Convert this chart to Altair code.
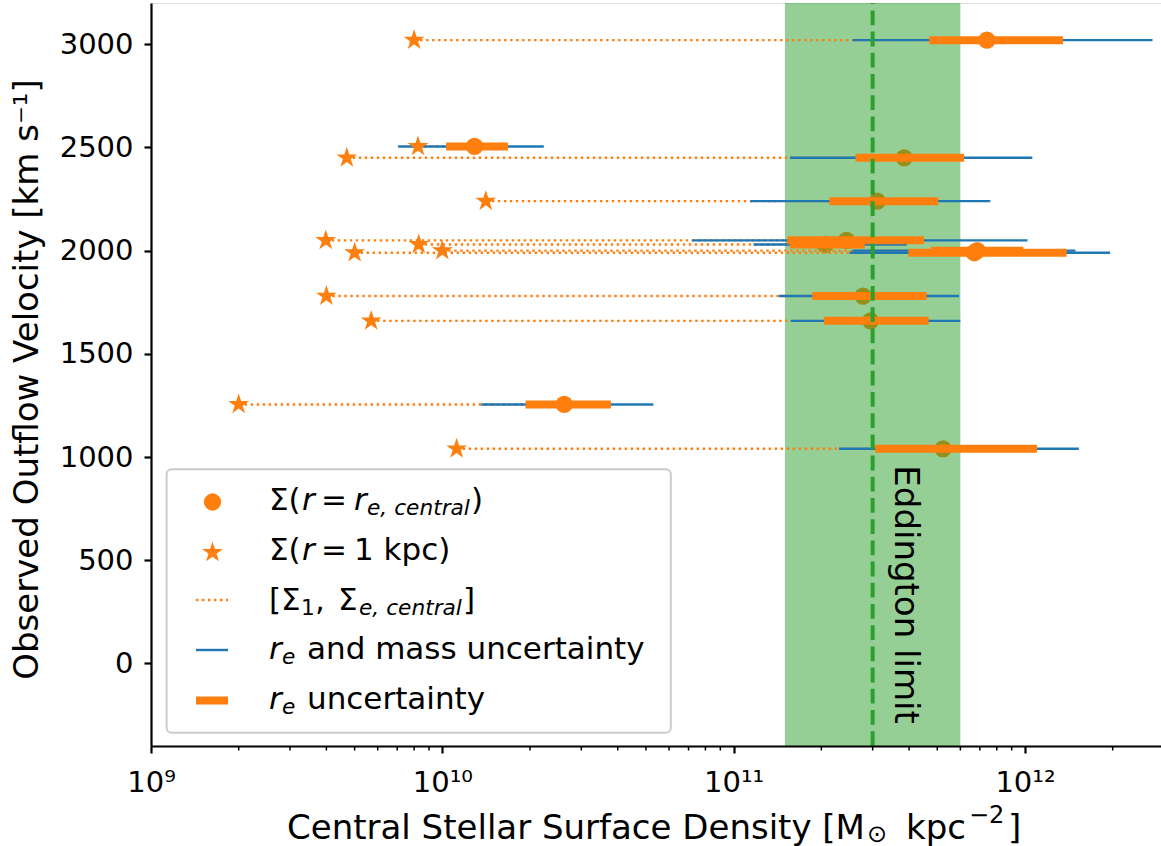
import math

import altair as alt
import pandas as pd

# Observed outflow velocity of each galaxy [km/s]
velocity = [3020, 2505, 2450, 2240, 2050, 2030, 2000, 1990, 1780, 1660, 1255, 1040]
# Stellar surface density inside r = 1 kpc
sigma_1kpc = [8.0e9, 8.25e9, 4.7e9, 1.41e10, 3.98e9, 8.3e9, 1.0e10, 5.0e9, 4.0e9, 5.7e9, 2.0e9, 1.12e10]
# Stellar surface density inside the central effective radius
sigma_re = [7.4e11, 1.29e10, 3.85e11, 3.11e11, 2.44e11, 2.06e11, 6.85e11, 6.7e11, 2.78e11, 2.95e11, 2.62e10, 5.23e11]
# Range allowed by the r_e and stellar-mass uncertainties together
full_lo = [2.56e11, 7.05e9, 1.56e11, 1.14e11, 7.2e10, 1.17e11, 2.56e11, 2.5e11, 1.43e11, 1.57e11, 1.36e10, 2.3e11]
full_hi = [2.74e12, 2.23e10, 1.06e12, 7.6e11, 1.02e12, 3.93e11, 1.49e12, 1.96e12, 5.94e11, 6.0e11, 5.3e10, 1.53e12]
# Range allowed by the r_e uncertainty alone
re_lo = [4.69e11, 1.03e10, 2.62e11, 2.13e11, 1.53e11, 1.56e11, 4.76e11, 3.98e11, 1.86e11, 2.04e11, 1.93e10, 3.06e11]
re_hi = [1.35e12, 1.68e10, 6.18e11, 5.04e11, 4.5e11, 2.82e11, 9.87e11, 1.39e12, 4.6e11, 4.67e11, 3.79e10, 1.10e12]

# Eddington-limited surface density and its range
eddington = [3.0e11]
eddington_range = [1.5e11, 6.0e11]

major_ticks = [1e9, 1e10, 1e11, 1e12]
major_labels = ["10⁹", "10¹⁰", "10¹¹", "10¹²"]
minor_ticks = [m * 10.0 ** e for e in (9, 10, 11) for m in range(2, 10)] + [2e12]
y_ticks = [0, 500, 1000, 1500, 2000, 2500, 3000]

W, H = 1010, 743
ORANGE, BLUE, GREEN = "#ff7f0e", "#1f77b4", "#2ca02c"
FONT = "DejaVu Sans"
CIRCLE_SIZE, STAR_SIZE = 300, 480


def star_path(inner=0.381966):
    pts = []
    for k in range(10):
        ang = math.radians(-90 + 36 * k)
        r = 1.0 if k % 2 == 0 else inner
        pts.append(f"{r * math.cos(ang):.4f},{r * math.sin(ang):.4f}")
    return "M" + "L".join(pts) + "Z"


STAR = star_path()

df = pd.DataFrame(dict(v=velocity, s1=sigma_1kpc, se=sigma_re,
                       flo=full_lo, fhi=full_hi, rlo=re_lo, rhi=re_hi))
one = pd.DataFrame({"k": [0]})

xscale = alt.Scale(type="log", domain=[1e9, 2.93e12], nice=False)
yscale = alt.Scale(domain=[-400, 3200], nice=False, zero=False)

label_expr = " : ".join(f"datum.value == {v:g} ? '{t}'"
                        for v, t in zip(major_ticks, major_labels)) + " : ''"

x_axis = alt.Axis(values=major_ticks, labelExpr=label_expr, title="",
                  labelFont=FONT, labelFontSize=29, labelColor="black",
                  labelBaseline="alphabetic", labelPadding=38.7,
                  labelFlush=False, labelOverlap=False,
                  tickSize=7, tickWidth=2.2, tickColor="black",
                  domainColor="black", domainWidth=2.2, grid=False, zindex=1)
y_axis = alt.Axis(values=y_ticks, format="d", title="Observed Outflow Velocity [km s⁻¹]",
                  labelFont=FONT, labelFontSize=29, labelColor="black",
                  labelPadding=11, tickSize=7, tickWidth=2.2, tickColor="black",
                  domainColor="black", domainWidth=2.2, grid=False, zindex=1,
                  titleFont=FONT, titleFontSize=34, titleFontWeight="normal",
                  titleColor="black", titleAngle=270, titleBaseline="alphabetic",
                  titleAlign="center", titleX=-114, titleY=376)


def X(field):
    return alt.X(field, type="quantitative", scale=xscale, axis=x_axis)


def Y(field):
    return alt.Y(field, type="quantitative", scale=yscale, axis=y_axis)


base = alt.Chart(df)

circles = base.mark_circle(size=CIRCLE_SIZE, color=ORANGE, opacity=1).encode(x=X("se"), y=Y("v"))

band = alt.Chart(pd.DataFrame({"lo": [eddington_range[0]], "hi": [eddington_range[1]]})).mark_rect(
    color=GREEN, opacity=0.5).encode(x=X("lo"), x2="hi", y=alt.value(0), y2=alt.value(H))

dotted = base.mark_rule(color=ORANGE, strokeWidth=2.4, strokeDash=[2.4, 3.6]).encode(
    x=X("s1"), x2="se", y=Y("v"))
full_err = base.mark_rule(color=BLUE, strokeWidth=2.4).encode(x=X("flo"), x2="fhi", y=Y("v"))
re_err = base.mark_rule(color=ORANGE, strokeWidth=8).encode(x=X("rlo"), x2="rhi", y=Y("v"))

minor = alt.Chart(pd.DataFrame({"t": minor_ticks})).mark_rule(color="black", strokeWidth=1.5).encode(
    x=X("t"), y=alt.value(H), y2=alt.value(H + 4.5))

edd_line = alt.Chart(pd.DataFrame({"e": eddington})).mark_rule(
    color=GREEN, strokeWidth=4, strokeDash=[14.8, 6.4]).encode(x=X("e"), y=alt.value(H), y2=alt.value(0))

edd_text = alt.Chart(pd.DataFrame({"x": [3.87e11], "y": [960], "t": ["Eddington limit"]})).mark_text(
    angle=90, align="left", baseline="middle", fontSize=34, font=FONT, color="black").encode(
    x=X("x"), y=Y("y"), text="t:N")

stars = base.mark_point(shape=STAR, filled=True, size=STAR_SIZE, color=ORANGE, opacity=1,
                        strokeWidth=0).encode(x=X("s1"), y=Y("v"))


def txt(s, x, y, size, italic=False):
    return alt.Chart(one).mark_text(
        text=s, align="left", baseline="alphabetic", font=FONT, fontSize=size,
        fontStyle="italic" if italic else "normal", color="black").encode(
        x=alt.value(x), y=alt.value(y))


LF, SF = 31, 21.7  # legend font size and its sub-script size

legend_box = alt.Chart(one).mark_rect(fill="white", fillOpacity=0.8, stroke="#cccccc",
                                      strokeWidth=2, cornerRadius=5).encode(
    x=alt.value(15.6), x2=alt.value(519.8), y=alt.value(466.3), y2=alt.value(729.7))
leg_circle = alt.Chart(one).mark_circle(size=CIRCLE_SIZE, color=ORANGE, opacity=1).encode(
    x=alt.value(61.5), y=alt.value(499))
leg_star = alt.Chart(one).mark_point(shape=STAR, filled=True, size=STAR_SIZE, color=ORANGE, opacity=1,
                                     strokeWidth=0).encode(x=alt.value(61.5), y=alt.value(549.5))
leg_dotted = alt.Chart(one).mark_rule(color=ORANGE, strokeWidth=2.4, strokeDash=[2.4, 3.6]).encode(
    x=alt.value(45), x2=alt.value(77), y=alt.value(597))
leg_blue = alt.Chart(one).mark_rule(color=BLUE, strokeWidth=2.4).encode(
    x=alt.value(45), x2=alt.value(77), y=alt.value(647))
leg_orange = alt.Chart(one).mark_rule(color=ORANGE, strokeWidth=8).encode(
    x=alt.value(45), x2=alt.value(77), y=alt.value(697.5))

legend_text = [
    txt("Σ(", 118, 507, LF), txt("r", 151, 507, LF, True), txt("=", 170, 507, LF),
    txt("r", 203, 507, LF, True), txt("e, central", 216, 512, SF, True), txt(")", 320, 507, LF),
    txt("Σ(", 118, 556.5, LF), txt("r", 151, 556.5, LF, True), txt("=", 170, 556.5, LF),
    txt("1 kpc)", 203, 556.5, LF),
    txt("[Σ", 118, 607, LF), txt("1", 150, 612, SF), txt(",", 164, 607, LF),
    txt("Σ", 187, 607, LF), txt("e, central", 208, 612, SF, True), txt("]", 312, 607, LF),
    txt("r", 118, 656, LF, True), txt("e", 131, 661, SF, True), txt("and mass uncertainty", 156, 656, LF),
    txt("r", 118, 706, LF, True), txt("e", 131, 711, SF, True), txt("uncertainty", 156, 706, LF),
]

# x-axis title, with the solar subscript and the power drawn at their own sizes
TF, TS = 34, 24
x_title = [
    txt("Central Stellar Surface Density [M", 136, 836, TF),
    txt("⊙", 716, 838.5, TS),
    txt("kpc", 755, 836, TF),
    txt("−2", 818, 820, TS),
    txt("]", 857, 836, TF),
]

chart = alt.layer(
    circles, band, dotted, full_err, re_err, minor, edd_line, edd_text, stars,
    legend_box, leg_circle, leg_star, leg_dotted, leg_blue, leg_orange,
    *legend_text, *x_title,
).properties(
    width=W, height=H,
    padding={"left": 151, "top": 3, "right": 0, "bottom": 100},
    autosize=alt.AutoSizeParams(type="none"),
).configure_view(stroke="black", strokeWidth=2.2).configure(font=FONT, background="white")

chart.save("out.html", embed_options={"renderer": "svg", "actions": False})
